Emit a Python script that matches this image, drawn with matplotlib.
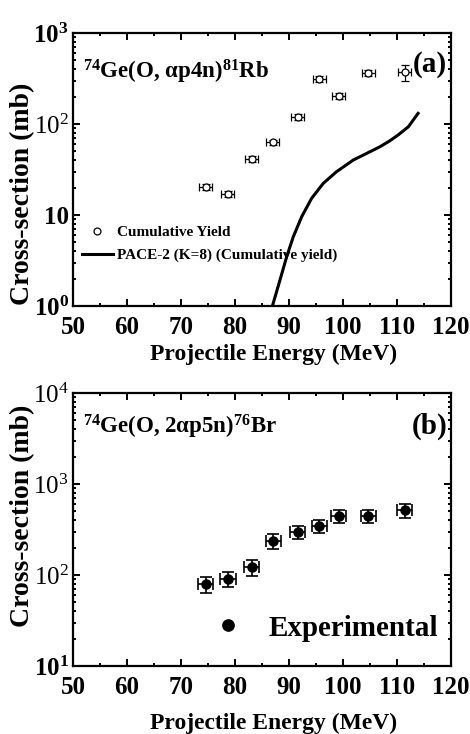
import matplotlib
matplotlib.use("Agg")
import matplotlib.pyplot as plt
from matplotlib.ticker import LogLocator, NullFormatter, MultipleLocator

plt.rcParams['font.family'] = ['Liberation Serif', 'DejaVu Serif']
plt.rcParams['font.weight'] = 'bold'
plt.rcParams['mathtext.fontset'] = 'custom'
plt.rcParams['mathtext.rm'] = 'Liberation Serif:normal'
plt.rcParams['mathtext.bf'] = 'Liberation Serif:bold'
plt.rcParams['mathtext.it'] = 'Liberation Serif:italic'
plt.rcParams['mathtext.default'] = 'bf'

# panel (a): 74Ge(O, a p4n)81Rb cumulative yield
energy_a = [74.6, 78.7, 83.1, 87.0, 91.6, 95.6, 99.2, 104.7, 111.4]
sigma_a = [20.3, 17.0, 41.0, 63.0, 119.0, 312.0, 203.0, 363.0, 372.0]
xerr_a = [1.2, 1.2, 1.2, 1.2, 1.2, 1.2, 1.2, 1.2, 1.2]
yerr_a = [1.5, 1.3, 3.0, 4.5, 9.0, 24.0, 15.0, 27.0, 75.0]

# PACE-2 (K=8) curve
pace_e = [86.97, 88.33, 89.57, 90.8, 92.35, 94.2, 96.35, 98.8, 101.9,
          105.0, 106.85, 108.6, 110.2, 112.1, 113.9]
pace_s = [1.02, 1.93, 3.48, 5.78, 9.58, 15.3, 22.3, 29.9, 40.2,
          49.6, 56.3, 65.0, 75.7, 93.3, 131.0]

# panel (b): 74Ge(O, 2a p5n)76Br
energy_b = [74.6, 78.7, 83.1, 87.1, 91.6, 95.6, 99.2, 104.7, 111.4]
sigma_b = [79.0, 90.0, 122.0, 237.0, 297.0, 347.0, 446.0, 446.0, 516.0]
xerr_b = [1.4, 1.4, 1.4, 1.4, 1.4, 1.4, 1.4, 1.4, 1.4]
yerr_b = [15.0, 17.0, 24.0, 45.0, 50.0, 60.0, 75.0, 75.0, 90.0]

ylabels_a = [r"$\mathbf{10^{0}}$", "10", r"$\mathrm{10^{2}}$", r"$\mathbf{10^{3}}$"]
ylabels_b = [r"$\mathbf{10^{1}}$", r"$\mathrm{10^{2}}$", r"$\mathrm{10^{3}}$", r"$\mathrm{10^{4}}$"]
xticks = [50, 60, 70, 80, 90, 100, 110, 120]

fig = plt.figure(figsize=(4.7, 7.34), dpi=100)
ax1 = fig.add_axes([0.1553, 0.5831, 0.8043, 0.3719])
ax2 = fig.add_axes([0.1553, 0.0926, 0.8043, 0.3719])


def style_axes(ax, yticks, ylabels):
    ax.set_yscale('log')
    ax.set_xlim(50, 120)
    ax.set_ylim(yticks[0], yticks[-1])
    ax.set_xticks(xticks)
    ax.set_xticklabels([str(t) for t in xticks])
    ax.xaxis.set_minor_locator(MultipleLocator(5))
    ax.set_yticks(yticks)
    ax.set_yticklabels(ylabels)
    ax.yaxis.set_minor_locator(LogLocator(base=10, subs=range(2, 10)))
    ax.yaxis.set_minor_formatter(NullFormatter())
    for s in ax.spines.values():
        s.set_linewidth(1.6)
    ax.tick_params(which='both', direction='in', top=True, right=True, width=1.4)
    ax.tick_params(which='major', length=5)
    ax.tick_params(which='minor', length=2.5)
    ax.tick_params(axis='x', labelsize=18, pad=7)
    ax.tick_params(axis='y', labelsize=18, pad=3)
    for lab in ax.get_xticklabels():
        lab.set_fontweight('bold')
    ax.set_xlabel("Projectile Energy (MeV)", fontsize=17, fontweight='bold')
    ax.set_ylabel("Cross-section (mb)", fontsize=20, fontweight='bold')


style_axes(ax1, [1, 10, 100, 1000], ylabels_a)
ax1.get_yticklabels()[1].set_fontweight('bold')
ax1.xaxis.set_label_coords(0.53, -0.14)
ax1.yaxis.set_label_coords(-0.10, 0.41)

ax1.errorbar(energy_a, sigma_a, xerr=xerr_a, yerr=yerr_a, fmt='none',
             ecolor='black', elinewidth=0.9, capsize=3, capthick=0.9)
ax1.plot(energy_a, sigma_a, 'o', ms=5, mfc='white', mec='black', mew=0.9,
         label='Cumulative Yield')
ax1.plot(pace_e, pace_s, '-', color='black', lw=2.2, solid_joinstyle='round',
         label='PACE-2 (K=8) (Cumulative yield)')
ax1.legend(loc='upper left', bbox_to_anchor=(0.024, 0.294), frameon=False,
           fontsize=11, handlelength=2.0, handletextpad=0.26,
           labelspacing=0.6, borderpad=0, borderaxespad=0)
ax1.text(0.026, 0.835, r"$^{74}$Ge(O, αp4n)$^{81}$Rb", transform=ax1.transAxes,
         fontsize=16.5, fontweight='bold', ha='left', va='baseline')
ax1.text(0.99, 0.857, "(a)", transform=ax1.transAxes,
         fontsize=21, fontweight='bold', ha='right', va='baseline')

style_axes(ax2, [10, 100, 1000, 10000], ylabels_b)
ax2.xaxis.set_label_coords(0.53, -0.172)
ax2.yaxis.set_label_coords(-0.10, 0.55)

ax2.errorbar(energy_b, sigma_b, xerr=xerr_b, yerr=yerr_b, fmt='none',
             ecolor='black', elinewidth=1.2, capsize=4, capthick=1.2)
ax2.plot(energy_b, sigma_b, 'o', ms=6.5, color='black', label='Experimental')
ax2.legend(loc='center left', bbox_to_anchor=(0.333, 0.139), frameon=False,
           fontsize=21, handlelength=2.0, handletextpad=0.38, markerscale=1.25,
           borderpad=0, borderaxespad=0)
ax2.text(0.026, 0.853, r"$^{74}$Ge(O, 2αp5n)$^{76}$Br", transform=ax2.transAxes,
         fontsize=16.5, fontweight='bold', ha='left', va='baseline')
ax2.text(0.99, 0.853, "(b)", transform=ax2.transAxes,
         fontsize=21, fontweight='bold', ha='right', va='baseline')

fig.savefig("out.png", dpi=100)
